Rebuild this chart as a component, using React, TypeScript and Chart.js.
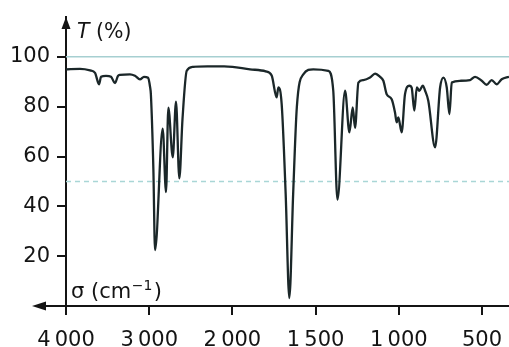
import React, { useEffect, useRef } from 'react';
import { Chart, registerables } from 'chart.js';

Chart.register(...registerables);

// Wavenumber sigma (cm^-1) and transmittance T (%)
const wavenumbers = [4000, 3832, 3711, 3651, 3603, 3579, 3519, 3459, 3411, 3375, 3351, 3231, 3171, 3111, 3063, 3014, 2990, 2980, 2950, 2930, 2838, 2798, 2770, 2717, 2678, 2638, 2600, 2549, 2473, 2300, 2100, 2000, 1894, 1800, 1764, 1734, 1724, 1704, 1680, 1658, 1635, 1613, 1574, 1514, 1424, 1394, 1369, 1323, 1297, 1277, 1263, 1243, 1213, 1173, 1143, 1113, 1093, 1073, 1043, 1023, 1013, 1003, 983, 963, 937, 923, 907, 892, 877, 856, 842, 823, 782, 752, 732, 712, 696, 682, 632, 572, 542, 502, 472, 442, 412, 382, 338];
const transmittance = [95.0, 95.2, 94.6, 93.6, 89.0, 92.0, 92.4, 92.0, 89.5, 92.4, 92.8, 93.0, 92.4, 91.0, 92.0, 91.6, 88, 85, 55, 22.4, 71.2, 45.7, 79.6, 59.7, 82.0, 51.2, 75, 94.4, 96.0, 96.2, 96.2, 96.0, 95.0, 94.2, 92.5, 83.7, 87.7, 81.0, 45, 3.2, 45, 79.7, 93.0, 95.0, 94.4, 86.4, 42.7, 86.4, 69.7, 79.7, 71.5, 89.7, 90.7, 91.7, 93.3, 92.0, 90.4, 85.0, 83.0, 77.7, 73.7, 75.7, 69.7, 85.0, 88.4, 87.7, 78.4, 87.7, 86.4, 88.4, 86.4, 82.4, 63.7, 87.7, 91.7, 87.7, 77.0, 89.7, 90.4, 90.7, 92.0, 90.4, 88.8, 90.7, 89.0, 91.0, 92.0];

const xTickValues = [4000, 3000, 2000, 1500, 1000, 500];
const yTickValues = [20, 40, 60, 80, 100];
const sigmaRange = [4000, 338];
const tRange = [0, 116];
const referenceLevels = [100, 50];

// Spectrometer scale change at 2000 cm^-1: above it, half the scale
const BREAK = 2000;
const toU = (s: number) => (s > BREAK ? BREAK + (s - BREAK) / 2 : s);
const fromU = (u: number) => (u > BREAK ? BREAK + (u - BREAK) * 2 : u);
const fmt = (n: number) => {
  const r = Math.round(n);
  if (r >= 1000) return `${Math.floor(r / 1000)}\u2009${String(r % 1000).padStart(3, '0')}`;
  return String(r);
};

const INK = '#141414';
const FONT = '"DejaVu Sans", Verdana, sans-serif';

const axisDecor = {
  id: 'axisDecor',
  afterDraw(chart: any) {
    const { ctx, chartArea, scales } = chart;
    const x0 = chartArea.left;
    const y0 = scales.y.getPixelForValue(0);
    const yt = chartArea.top;
    ctx.save();
    ctx.fillStyle = INK;
    ctx.strokeStyle = INK;
    ctx.lineWidth = 2;
    // x axis extension to the left with arrow
    ctx.beginPath();
    ctx.moveTo(x0, y0);
    ctx.lineTo(x0 - 24, y0);
    ctx.stroke();
    ctx.beginPath();
    ctx.moveTo(x0 - 34, y0);
    ctx.lineTo(x0 - 20, y0 - 4.5);
    ctx.lineTo(x0 - 20, y0 + 4.5);
    ctx.closePath();
    ctx.fill();
    // y arrow head
    ctx.beginPath();
    ctx.moveTo(x0, yt);
    ctx.lineTo(x0 - 4.5, yt + 12);
    ctx.lineTo(x0 + 4.5, yt + 12);
    ctx.closePath();
    ctx.fill();
    // y title
    ctx.textBaseline = 'alphabetic';
    ctx.textAlign = 'left';
    ctx.font = `italic 20.5px ${FONT}`;
    const tx = x0 + 11;
    const ty = yt + 21;
    ctx.fillText('T', tx, ty);
    const tw = ctx.measureText('T').width;
    ctx.font = `20.5px ${FONT}`;
    ctx.fillText(' (%)', tx + tw, ty);
    // x title
    const sx = x0 + 5;
    const sy = y0 - 8;
    ctx.font = `21px ${FONT}`;
    const part1 = 'σ (cm';
    ctx.fillText(part1, sx, sy);
    let w = ctx.measureText(part1).width;
    ctx.font = `14px ${FONT}`;
    const sup = '−1';
    ctx.fillText(sup, sx + w + 0.5, sy - 8);
    w += ctx.measureText(sup).width + 2;
    ctx.font = `21px ${FONT}`;
    ctx.fillText(')', sx + w, sy);
    ctx.restore();
  },
};

export default function App() {
  const ref = useRef<HTMLCanvasElement | null>(null);
  useEffect(() => {
    if (!ref.current) return;
    const xMin = toU(sigmaRange[1]);
    const xMax = toU(sigmaRange[0]);
    const spectrum = wavenumbers.map((s, i) => ({ x: toU(s), y: transmittance[i] }));
    const refSets = referenceLevels.map((lvl, i) => ({
      data: [
        { x: xMax, y: lvl },
        { x: xMin, y: lvl },
      ],
      borderColor: i === 0 ? '#a6cfd1' : '#a9d6d6',
      borderWidth: 1.5,
      borderDash: i === 0 ? [] : [5, 4],
      pointRadius: 0,
      tension: 0,
      order: 2,
    }));
    const chart = new Chart(ref.current, {
      type: 'line',
      data: {
        datasets: [
          {
            data: spectrum,
            borderColor: '#1b2729',
            borderWidth: 2.3,
            pointRadius: 0,
            cubicInterpolationMode: 'monotone',
            order: 1,
          },
          ...refSets,
        ],
      },
      options: {
        animation: false,
        responsive: false,
        devicePixelRatio: 1,
        layout: { padding: { top: 17, left: 0, right: 0, bottom: 0 } },
        plugins: { legend: { display: false }, tooltip: { enabled: false } },
        scales: {
          x: {
            type: 'linear',
            reverse: true,
            min: xMin,
            max: xMax,
            afterBuildTicks: (scale: any) => {
              scale.ticks = xTickValues.map((v) => ({ value: toU(v) }));
            },
            afterFit: (scale: any) => {
              scale.height = 41;
              scale.paddingLeft = 0;
              scale.paddingRight = 0;
            },
            ticks: {
              callback: (v: any) => fmt(fromU(Number(v))),
              font: { family: FONT, size: 21 },
              color: INK,
              padding: 13,
              maxRotation: 0,
              autoSkip: false,
            },
            grid: {
              drawOnChartArea: false,
              drawTicks: true,
              tickLength: 9,
              color: INK,
              lineWidth: 2,
            },
            border: { display: true, color: INK, width: 2 },
          },
          y: {
            type: 'linear',
            min: tRange[0],
            max: tRange[1],
            afterBuildTicks: (scale: any) => {
              scale.ticks = yTickValues.map((v) => ({ value: v }));
            },
            afterFit: (scale: any) => {
              scale.width = 66;
              scale.paddingTop = 0;
              scale.paddingBottom = 0;
            },
            ticks: {
              font: { family: FONT, size: 21 },
              color: INK,
              padding: 7,
              autoSkip: false,
            },
            grid: {
              drawOnChartArea: false,
              drawTicks: true,
              tickLength: 9,
              color: INK,
              lineWidth: 2,
            },
            border: { display: true, color: INK, width: 2 },
          },
        },
      } as any,
      plugins: [axisDecor],
    });
    return () => chart.destroy();
  }, []);
  return (
    <div style={{ position: 'fixed', left: 0, top: 0, width: 509, height: 347, background: '#fff' }}>
      <canvas ref={ref} width={509} height={347} style={{ display: 'block' }} />
    </div>
  );
}
